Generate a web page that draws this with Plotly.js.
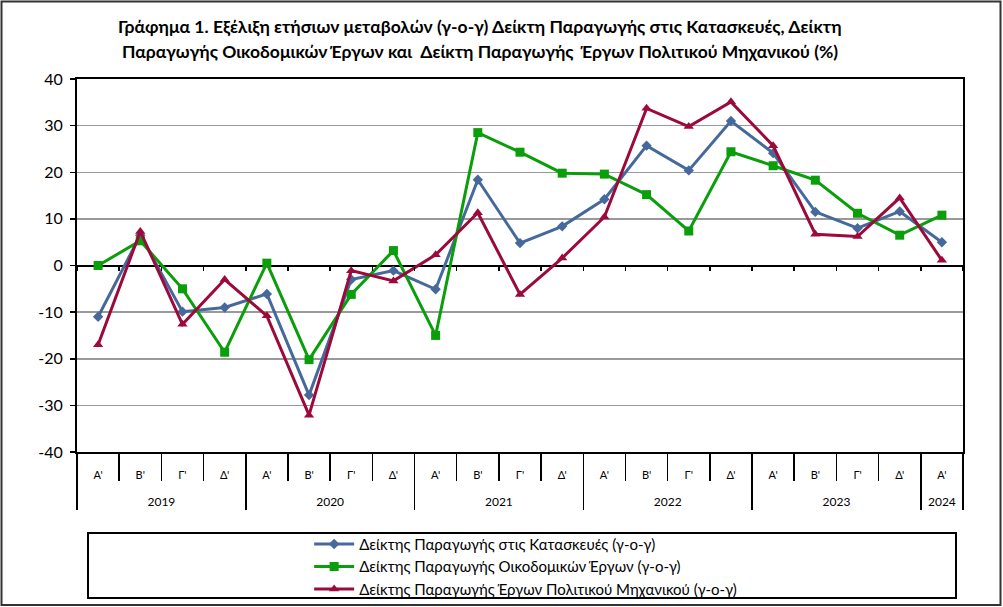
<!DOCTYPE html>
<html>
<head>
<meta charset="utf-8">
<script src="https://cdn.plot.ly/plotly-3.0.1.min.js"></script>
<style>html,body{margin:0;padding:0;background:#fff;}#chart{width:1003px;height:607px;}</style>
</head>
<body>
<div id="chart"></div>
<script>
const years = ['2019','2019','2019','2019','2020','2020','2020','2020','2021','2021','2021','2021','2022','2022','2022','2022','2023','2023','2023','2023','2024'];
const quarters = ["Α'","Β'","Γ'","Δ'","Α'","Β'","Γ'","Δ'","Α'","Β'","Γ'","Δ'","Α'","Β'","Γ'","Δ'","Α'","Β'","Γ'","Δ'","Α'"];
const construction = [-11.0, 6.5, -9.9, -9.0, -6.1, -27.8, -3.0, -1.1, -5.1, 18.4, 4.8, 8.4, 14.2, 25.7, 20.4, 31.0, 24.1, 11.5, 8.0, 11.6, 5.0];
const building = [0.0, 5.3, -5.0, -18.6, 0.5, -20.2, -6.2, 3.2, -15.0, 28.5, 24.3, 19.8, 19.6, 15.2, 7.4, 24.4, 21.4, 18.3, 11.2, 6.5, 10.8];
const civil = [-17.0, 7.3, -12.6, -3.0, -10.8, -32.1, -1.1, -3.3, 2.3, 11.3, -6.2, 1.6, 10.4, 33.7, 29.8, 35.1, 25.7, 6.7, 6.2, 14.5, 1.1];
const seriesNames = ['Δείκτης Παραγωγής στις Κατασκευές (γ-ο-γ)', 'Δείκτης Παραγωγής Οικοδομικών Έργων (γ-ο-γ)', 'Δείκτης Παραγωγής Έργων Πολιτικού Μηχανικού (γ-ο-γ)'];
const yTicks = [-40, -30, -20, -10, 0, 10, 20, 30, 40];
const titleLines = ['Γράφημα 1. Εξέλιξη ετήσιων μεταβολών (γ-ο-γ) Δείκτη Παραγωγής στις Κατασκευές, Δείκτη',
                    'Παραγωγής Οικοδομικών Έργων και  Δείκτη Παραγωγής  Έργων Πολιτικού Μηχανικού (%)'];

const font = "Lato, 'Open Sans', sans-serif";
const colors = ['#46699C', '#0A9E0A', '#9C0A3C'];
const symbols = ['diamond', 'square', 'triangle-up'];
const sizes = [8, 9, 9];
const cats = years.map((y, i) => y + ' ' + quarters[i]);
const n = years.length;
const xRange = [-0.5, n - 0.5];
const idx = years.map((_, i) => i);

// category boundaries (quarters) and year groups, derived from the arrays above
const qBounds = [];
for (let i = 0; i <= n; i++) qBounds.push(i - 0.5);
const yearNames = [], yearCenters = [], yearBounds = [-0.5];
let start = 0;
for (let i = 1; i <= n; i++) {
  if (i === n || years[i] !== years[start]) {
    yearNames.push(years[start]);
    yearCenters.push((start + i - 1) / 2);
    yearBounds.push(i - 0.5);
    start = i;
  }
}

const traces = [construction, building, civil].map((vals, k) => ({
  type: 'scatter', mode: 'lines+markers', name: seriesNames[k],
  x: cats, y: vals,
  line: {color: colors[k], width: 3},
  marker: {color: colors[k], symbol: symbols[k], size: sizes[k]},
  hoverinfo: 'skip'
}));
// invisible helper traces so the helper axes are drawn
['x2', 'x3', 'x4', 'x5'].forEach(ax => traces.push({
  type: 'scatter', mode: 'markers', x: idx, y: idx.map(() => null),
  xaxis: ax, showlegend: false, hoverinfo: 'skip', marker: {opacity: 0, size: 1}
}));

const helper = {type: 'linear', overlaying: 'x', range: xRange, autorange: false,
  showline: false, showgrid: false, zeroline: false, automargin: false, fixedrange: true};

const titleFont = {family: font, size: 17.5, color: '#000'};

const layout = {
  width: 1003, height: 607,
  margin: {l: 77, r: 40, t: 79, b: 155, autoexpand: false},
  paper_bgcolor: '#fff', plot_bgcolor: '#fff',
  font: {family: font, color: '#000'},
  annotations: [
    {text: '<b>' + titleLines[0] + '</b>', xref: 'paper', yref: 'paper', x: 0.455, y: (452 - 27) / 373,
     xanchor: 'center', yanchor: 'middle', showarrow: false, font: titleFont},
    {text: '<b>' + titleLines[1] + '</b>', xref: 'paper', yref: 'paper', x: 0.455, y: (452 - 52) / 373,
     xanchor: 'center', yanchor: 'middle', showarrow: false, font: titleFont}
  ],
  xaxis: {
    type: 'category', range: xRange, autorange: false,
    categoryorder: 'array', categoryarray: cats,
    tickvals: cats, ticktext: quarters,
    showline: true, linecolor: '#000', linewidth: 2, mirror: true,
    ticks: '', ticklabelstandoff: 12,
    tickfont: {family: font, size: 11, color: '#000'},
    showgrid: false, zeroline: false, fixedrange: true, automargin: false
  },
  // small ticks on the zero line
  xaxis2: Object.assign({}, helper, {anchor: 'free', position: 0.5,
    tickvals: qBounds, ticks: 'outside', ticklen: 4, tickcolor: '#000', tickwidth: 1.5, showticklabels: false}),
  // quarter separators below the plot
  xaxis3: Object.assign({}, helper, {anchor: 'y', side: 'bottom',
    tickvals: qBounds, ticks: 'outside', ticklen: 28, tickcolor: '#000', tickwidth: 1.5, showticklabels: false}),
  // year labels
  xaxis4: Object.assign({}, helper, {anchor: 'y', side: 'bottom',
    tickvals: yearCenters, ticktext: yearNames, ticks: '', ticklabelstandoff: 41,
    tickfont: {family: font, size: 12, color: '#000'}}),
  // year dividers
  xaxis5: Object.assign({}, helper, {anchor: 'y', side: 'bottom',
    tickvals: yearBounds, ticks: 'outside', ticklen: 57, tickcolor: '#000', tickwidth: 1.5, showticklabels: false}),
  yaxis: {
    range: [-40, 40], tickvals: yTicks, ticktext: yTicks.map(String),
    showline: true, linecolor: '#000', linewidth: 2, mirror: true,
    ticks: 'outside', ticklen: 5, tickcolor: '#000', tickwidth: 1.5, ticklabelstandoff: 4,
    showgrid: true, gridcolor: '#999', gridwidth: 1.5,
    zeroline: true, zerolinecolor: '#000', zerolinewidth: 2,
    tickfont: {family: font, size: 16, color: '#000'},
    fixedrange: true, automargin: false
  },
  showlegend: true,
  legend: {
    x: 0.262, y: -0.203, xanchor: 'left', yanchor: 'top',
    font: {family: font, size: 15, color: '#000'},
    bgcolor: 'rgba(0,0,0,0)', borderwidth: 0, itemwidth: 40, tracegroupgap: 0
  },
  shapes: [
    {type: 'rect', xref: 'paper', yref: 'paper', x0: (88-77)/886, x1: (956-77)/886, y0: (452-598)/373, y1: (452-533)/373,
     line: {color: '#000', width: 2}, fillcolor: 'rgba(0,0,0,0)'},
    {type: 'rect', xref: 'paper', yref: 'paper', x0: (1.5-77)/886, x1: (1000.5-77)/886, y0: (452-605)/373, y1: (452-1.5)/373,
     line: {color: '#333', width: 2}, fillcolor: 'rgba(0,0,0,0)'}
  ]
};

Plotly.newPlot('chart', traces, layout, {staticPlot: true, displayModeBar: false});
</script>
</body>
</html>
